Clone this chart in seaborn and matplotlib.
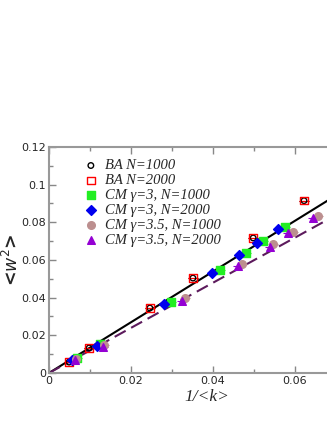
import numpy as np
import pandas as pd
import seaborn as sns
import matplotlib.pyplot as plt

sns.set_style("white")

# 1/<k> and <w^2>
ba_x = [0.0049, 0.0098, 0.0246, 0.0351, 0.0498, 0.0622]
ba_y = [0.0058, 0.0133, 0.0345, 0.0504, 0.0717, 0.0915]
cm3_1000_x = [0.0068, 0.0124, 0.0298, 0.0417, 0.0480, 0.0522, 0.0576]
cm3_1000_y = [0.0078, 0.0156, 0.0377, 0.0547, 0.0637, 0.0700, 0.0775]
cm3_2000_x = [0.0056, 0.0117, 0.0280, 0.0398, 0.0463, 0.0507, 0.0559]
cm3_2000_y = [0.0070, 0.0143, 0.0366, 0.0531, 0.0627, 0.0690, 0.0765]
cm35_1000_x = [0.0067, 0.0135, 0.0332, 0.0470, 0.0546, 0.0595, 0.0656]
cm35_1000_y = [0.0076, 0.0150, 0.0400, 0.0580, 0.0685, 0.0750, 0.0834]
cm35_2000_x = [0.0063, 0.0132, 0.0324, 0.0461, 0.0539, 0.0583, 0.0644]
cm35_2000_y = [0.0070, 0.0140, 0.0382, 0.0568, 0.0669, 0.0743, 0.0823]
slope_solid = 1.347
slope_dashed = 1.198

series = [
    ("BA N=1000", ba_x, ba_y, "o", "black", "none"),
    ("BA N=2000", ba_x, ba_y, "s", "red", "none"),
    ("CM \u03b3=3, N=1000", cm3_1000_x, cm3_1000_y, "s", "#22ee22", "#22ee22"),
    ("CM \u03b3=3, N=2000", cm3_2000_x, cm3_2000_y, "D", "#0000ee", "#0000ee"),
    ("CM \u03b3=3.5, N=1000", cm35_1000_x, cm35_1000_y, "o", "#bc8f8f", "#bc8f8f"),
    ("CM \u03b3=3.5, N=2000", cm35_2000_x, cm35_2000_y, "^", "#9400d3", "#9400d3"),
]

fig = plt.figure(figsize=(3.27, 4.23), dpi=100)
ax = fig.add_axes([0.1498, 0.1182, 0.8777, 0.5343])

xs = np.array([0.0, 0.07])
sns.lineplot(x=xs, y=slope_solid * xs, color="black", lw=1.5, ax=ax, zorder=1)
sns.lineplot(x=xs, y=slope_dashed * xs, color="#5c1a5c", lw=1.5, ax=ax,
             dashes=False, linestyle=(0, (6, 3)), zorder=1)

handles = []
for name, x, y, m, ec, fc in series:
    ms = 5 if m == "D" else 5.5
    if name == "BA N=1000":
        ms = 4
    ax.errorbar(x, y, xerr=0.0012, fmt="none", ecolor=ec, elinewidth=0.8, zorder=2)
    sc = ax.scatter(x, y, marker=m, s=ms ** 2, facecolors=fc, edgecolors=ec,
                    linewidths=1.0, zorder=3 if name != "BA N=1000" else 2.5,
                    label=name)
    handles.append(sc)

leg = ax.legend(handles=handles, loc="upper left", bbox_to_anchor=(0.09, 0.985),
                frameon=False, handletextpad=0.45, labelspacing=0.12,
                handlelength=1.0, borderaxespad=0.2,
                prop={"family": "Liberation Serif", "style": "italic", "size": 10.5})

ax.set_xlim(0, 0.07)
ax.set_ylim(0, 0.12)
ax.set_xticks([0, 0.02, 0.04, 0.06])
ax.set_xticklabels(["0", "0.02", "0.04", "0.06"])
ax.set_xticks([0.01, 0.03, 0.05], minor=True)
ax.set_yticks([0, 0.02, 0.04, 0.06, 0.08, 0.1, 0.12])
ax.set_yticklabels(["0", "0.02", "0.04", "0.06", "0.08", "0.1", "0.12"])
ax.set_yticks([0.01, 0.03, 0.05, 0.07, 0.09, 0.11], minor=True)
ax.tick_params(which="both", direction="in", top=True, bottom=True, left=True,
               right=False, color="#888888", labelsize=8, pad=2)
ax.tick_params(which="major", length=5, width=1)
ax.tick_params(which="minor", length=3, width=1)
for s in ax.spines.values():
    s.set_color("#999999")
    s.set_linewidth(1.5)

ax.set_xlabel("1/<k>", family="Liberation Serif", style="italic", fontsize=12.5,
              va="center")
ax.xaxis.set_label_coords(0.55, -0.106)
ax.set_ylabel(r"<$w^2$>", fontsize=12.5, fontweight="bold", va="center")
ax.yaxis.set_label_coords(-0.13, 0.5)

fig.savefig("out.png", dpi=100)
